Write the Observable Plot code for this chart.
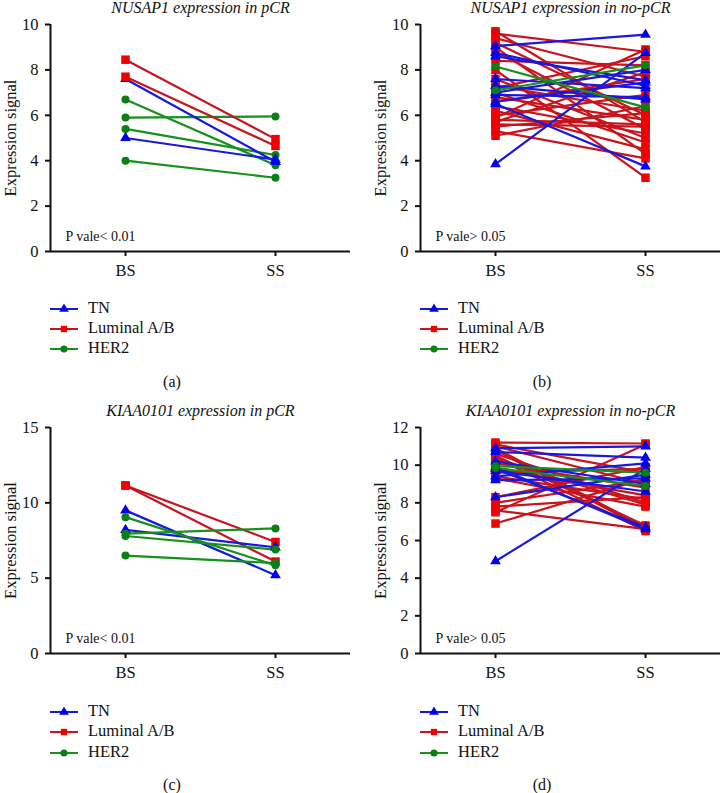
<!DOCTYPE html>
<html>
<head>
<meta charset="utf-8">
<script src="https://cdn.jsdelivr.net/npm/d3@7"></script>
<script src="https://cdn.jsdelivr.net/npm/@observablehq/plot@0.6"></script>
<style>
  html, body { margin: 0; padding: 0; background: #fff; }
  #root { position: relative; width: 722px; height: 793px; background: #fff; font-family: "Liberation Serif", "DejaVu Serif", serif; color: #111; }
  .lg { position: absolute; font-size: 16.5px; line-height: 18px; white-space: nowrap; }
  .cap { position: absolute; font-size: 16px; transform: translate(-50%, -50%); }
</style>
</head>
<body>
<div id="root"></div>
<script>
// ---- Data: [BS, SS] pairs per subtype ----
const stages = ["BS", "SS"];
const groups = ["TN", "Luminal A/B", "HER2"];

// (a) NUSAP1 expression in pCR
const nusapPcrTN   = [[7.6, 3.95], [5.0, 4.05]];
const nusapPcrLum  = [[8.45, 4.95], [7.7, 4.65]];
const nusapPcrHER2 = [[6.7, 3.8], [5.9, 5.95], [5.4, 4.25], [4.0, 3.25]];

// (b) NUSAP1 expression in no-pCR
const nusapNoTN   = [[3.85, 8.75], [9.05, 9.55], [8.75, 7.3], [8.6, 7.55], [7.6, 7.2], [7.3, 6.7], [6.9, 6.8], [6.6, 7.45], [6.5, 3.75], [7.0, 8.0]];
const nusapNoLum  = [[9.6, 8.8], [9.4, 7.7], [9.2, 6.0], [9.0, 4.3], [8.8, 5.4], [8.4, 8.2], [8.0, 3.25], [7.6, 5.0], [7.3, 6.2], [7.2, 8.6], [7.0, 4.8], [6.8, 5.8], [6.6, 7.6], [6.4, 5.2], [6.2, 4.5], [6.0, 6.9], [5.8, 5.6], [5.7, 7.9], [5.6, 5.5], [5.5, 6.1], [5.3, 4.1], [5.1, 6.4], [5.9, 8.9], [9.7, 5.7]];
const nusapNoHER2 = [[8.15, 6.35], [7.1, 8.2]];

// (c) KIAA0101 expression in pCR
const kiaaPcrTN   = [[9.5, 5.2], [8.2, 7.05]];
const kiaaPcrLum  = [[11.15, 7.4], [11.15, 6.1]];
const kiaaPcrHER2 = [[9.05, 5.85], [7.95, 8.3], [7.8, 6.9], [6.5, 6.0]];

// (d) KIAA0101 expression in no-pCR
const kiaaNoTN   = [[4.9, 9.8], [10.9, 11.0], [10.7, 10.4], [10.2, 9.0], [9.9, 6.6], [9.7, 8.6], [9.4, 10.1], [9.2, 9.3], [8.3, 9.5], [9.8, 6.7]];
const kiaaNoLum  = [[11.2, 11.15], [11.0, 9.0], [10.9, 6.7], [10.8, 6.6], [10.6, 8.0], [10.5, 6.8], [10.3, 7.9], [10.1, 8.8], [9.8, 8.4], [9.6, 9.8], [9.4, 8.2], [9.3, 7.8], [8.3, 9.9], [8.0, 9.2], [7.8, 8.3], [7.6, 6.6], [7.5, 11.1], [6.9, 9.3], [11.1, 9.6], [10.4, 6.5]];
const kiaaNoHER2 = [[9.95, 9.6], [9.85, 8.9]];

const titles = ["NUSAP1 expression in pCR", "NUSAP1 expression in no-pCR", "KIAA0101 expression in pCR", "KIAA0101 expression in no-pCR"];
const pTexts = ["P vale< 0.01", "P vale> 0.05", "P vale< 0.01", "P vale> 0.05"];
const captions = ["(a)", "(b)", "(c)", "(d)"];
const yTicksAB = [0, 2, 4, 6, 8, 10];
const yTicksC = [0, 5, 10, 15];
const yTicksD = [0, 2, 4, 6, 8, 10, 12];

// ---- Styles ----
const lineColor = {"TN": "#1818e0", "Luminal A/B": "#c8141c", "HER2": "#17901c"};
const dotColor = {"TN": "#0000f0", "Luminal A/B": "#f00000", "HER2": "#0a7f14"};
const symbolOf = {"TN": "triangle", "Luminal A/B": "square", "HER2": "circle"};
const rOf = {"TN": 4.0, "Luminal A/B": 4.8, "HER2": 4.0};

function rowsFor(pairsByGroup) {
  const rows = [];
  groups.forEach((g, gi) => {
    pairsByGroup[gi].forEach((p, i) => {
      rows.push({id: g + i, g, x: 0, y: p[0]});
      rows.push({id: g + i, g, x: 1, y: p[1]});
    });
  });
  return rows;
}

function makePanel({pairs, yMax, yTicks, title, pText, marginLeft, marginRight, marginTop, marginBottom, order}) {
  const rows = rowsFor(pairs);
  const marks = [];
  for (const g of order) {
    marks.push(Plot.line(rows.filter(d => d.g === g), {x: "x", y: "y", z: "id", stroke: lineColor[g], strokeWidth: 2.2}));
  }
  for (const g of order) {
    marks.push(Plot.dot(rows.filter(d => d.g === g), {x: "x", y: "y", symbol: () => symbolOf[g], r: rOf[g], fill: dotColor[g], stroke: "none"}));
  }
  return Plot.plot({
    width: 361,
    height: 290,
    marginLeft, marginRight, marginTop, marginBottom,
    style: {fontFamily: "Liberation Serif, DejaVu Serif, serif", fontSize: "16px", color: "#111", background: "transparent", overflow: "visible"},
    symbol: {type: "identity"},
    x: {domain: [-0.5, 1.5]},
    y: {domain: [0, yMax]},
    marks: [
      Plot.axisY({ticks: yTicks, tickSize: 5, tickPadding: 7, strokeWidth: 2, fontSize: 16.5, label: null}),
      Plot.axisX({ticks: [0, 1], tickFormat: d => stages[d], tickSize: 5, tickPadding: 8, strokeWidth: 2, fontSize: 16.5, label: null}),
      Plot.ruleX([-0.5], {y1: 0, y2: yMax, stroke: "#111", strokeWidth: 2}),
      Plot.ruleY([0], {x1: -0.5, x2: 1.5, stroke: "#111", strokeWidth: 2}),
      ...marks,
      Plot.text([title], {frameAnchor: "top", dy: -12, lineAnchor: "bottom", fontStyle: "italic", fontSize: 16, fill: "#111"}),
      Plot.text(["Expression signal"], {frameAnchor: "left", dx: -40, rotate: -90, textAnchor: "middle", lineAnchor: "middle", fontSize: 16.5, fill: "#111"}),
      Plot.text([pText], {frameAnchor: "bottom-left", dx: 15, dy: -11, textAnchor: "start", lineAnchor: "bottom", fontSize: 14, fill: "#111"})
    ]
  });
}

const root = document.getElementById("root");

function place(el, left, top) {
  el.style.position = "absolute";
  el.style.left = left + "px";
  el.style.top = top + "px";
  root.appendChild(el);
}

function legend(axisX, yCenters) {
  groups.forEach((g, i) => {
    const ns = "http://www.w3.org/2000/svg";
    const svg = document.createElementNS(ns, "svg");
    svg.setAttribute("width", 30); svg.setAttribute("height", 14);
    const line = document.createElementNS(ns, "line");
    line.setAttribute("x1", 0); line.setAttribute("x2", 28); line.setAttribute("y1", 7); line.setAttribute("y2", 7);
    line.setAttribute("stroke", lineColor[g]); line.setAttribute("stroke-width", 2);
    svg.appendChild(line);
    const sym = d3.symbol().type({triangle: d3.symbolTriangle, square: d3.symbolSquare, circle: d3.symbolCircle}[symbolOf[g]]).size(Math.PI * 4 * 4 * 0.8);
    const path = document.createElementNS(ns, "path");
    path.setAttribute("d", sym());
    path.setAttribute("transform", "translate(14,7)");
    path.setAttribute("fill", dotColor[g]);
    svg.appendChild(path);
    place(svg, axisX, yCenters[i] - 7);
    const t = document.createElement("div");
    t.className = "lg";
    t.textContent = g;
    place(t, axisX + 38, yCenters[i] - 10);
  });
}

function caption(text, cx, cy) {
  const d = document.createElement("div");
  d.className = "cap";
  d.textContent = text;
  d.style.left = cx + "px"; d.style.top = cy + "px";
  root.appendChild(d);
}

const order = ["Luminal A/B", "TN", "HER2"];

place(makePanel({pairs: [nusapPcrTN, nusapPcrLum, nusapPcrHER2], yMax: 10, yTicks: yTicksAB, title: titles[0], pText: pTexts[0],
  marginLeft: 50, marginRight: 11, marginTop: 24, marginBottom: 39, order: ["HER2", "TN", "Luminal A/B"]}), 0, 0);
place(makePanel({pairs: [nusapNoTN, nusapNoLum, nusapNoHER2], yMax: 10, yTicks: yTicksAB, title: titles[1], pText: pTexts[1],
  marginLeft: 59, marginRight: 2, marginTop: 24, marginBottom: 39, order}), 361, 0);
place(makePanel({pairs: [kiaaPcrTN, kiaaPcrLum, kiaaPcrHER2], yMax: 15, yTicks: yTicksC, title: titles[2], pText: pTexts[2],
  marginLeft: 50, marginRight: 11, marginTop: 32, marginBottom: 32, order: ["Luminal A/B", "TN", "HER2"]}), 0, 395);
place(makePanel({pairs: [kiaaNoTN, kiaaNoLum, kiaaNoHER2], yMax: 12, yTicks: yTicksD, title: titles[3], pText: pTexts[3],
  marginLeft: 59, marginRight: 2, marginTop: 32, marginBottom: 32, order}), 361, 395);

legend(50, [309, 329, 349]);
legend(420, [309, 329, 349]);
legend(50, [712, 732, 753]);
legend(420, [712, 732, 753]);

caption(captions[0], 172, 382);
caption(captions[1], 542, 382);
caption(captions[2], 172, 785);
caption(captions[3], 542, 785);
</script>
</body>
</html>
